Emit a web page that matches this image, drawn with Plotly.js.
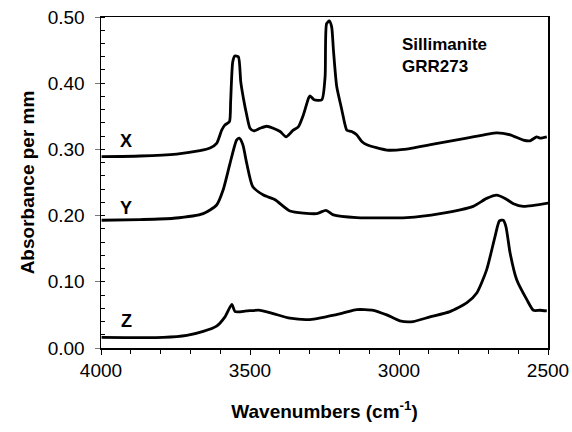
<!DOCTYPE html>
<html>
<head>
<meta charset="utf-8">
<script src="https://cdn.plot.ly/plotly-3.0.1.min.js"></script>
<style>html,body{margin:0;padding:0;background:#fff}#chart{width:572px;height:432px}</style>
</head>
<body>
<div id="chart"></div>
<script>
// Spectrum X (offset)
const xWn = [3998,3869,3746,3668,3634,3612,3595,3584,3569,3565,3558,3551,3539,3531,3522,3511,3500,3487,3466,3444,3422,3399,3379,3355,3338,3321,3304,3299,3285,3259,3248,3243,3234,3226,3220,3209,3192,3181,3175,3159,3142,3125,3108,3041,2985,2885,2773,2672,2627,2583,2560,2538,2527,2504];
const xAbs = [0.289,0.290,0.293,0.298,0.302,0.309,0.329,0.337,0.342,0.372,0.432,0.441,0.440,0.402,0.377,0.352,0.332,0.328,0.332,0.335,0.332,0.327,0.319,0.329,0.334,0.352,0.377,0.381,0.375,0.375,0.410,0.490,0.494,0.485,0.450,0.395,0.360,0.337,0.329,0.327,0.322,0.312,0.307,0.299,0.300,0.308,0.317,0.325,0.322,0.314,0.313,0.319,0.317,0.319];
// Spectrum Y (offset)
const yWn = [3998,3869,3757,3657,3612,3590,3567,3545,3536,3524,3511,3491,3455,3416,3366,3276,3245,3220,3142,2974,2862,2751,2706,2672,2644,2616,2583,2499];
const yAbs = [0.193,0.194,0.196,0.203,0.216,0.239,0.279,0.314,0.317,0.307,0.279,0.244,0.231,0.224,0.207,0.203,0.208,0.201,0.197,0.197,0.203,0.214,0.226,0.231,0.226,0.218,0.214,0.219];
// Spectrum Z
const zWn = [3998,3791,3712,3657,3612,3584,3561,3550,3511,3466,3422,3366,3299,3187,3142,3086,3041,2997,2952,2896,2829,2773,2739,2706,2678,2663,2650,2641,2627,2605,2571,2549,2527,2504];
const zAbs = [0.016,0.016,0.019,0.025,0.033,0.047,0.066,0.055,0.056,0.057,0.052,0.045,0.043,0.053,0.058,0.057,0.050,0.041,0.040,0.047,0.055,0.068,0.083,0.118,0.168,0.192,0.193,0.183,0.143,0.103,0.073,0.057,0.057,0.056];

const seriesNames = ["X","Y","Z"];
const labelY = [0.313,0.211,0.041];
const labelWn = 3915;
const sampleText = ["Sillimanite","GRR273"];

const lineStyle = {color:"#000", width:2.8, shape:"spline", smoothing:0.6};
const traces = [
  {x:xWn, y:xAbs, mode:"lines", line:lineStyle, name:"X"},
  {x:yWn, y:yAbs, mode:"lines", line:lineStyle, name:"Y"},
  {x:zWn, y:zAbs, mode:"lines", line:lineStyle, name:"Z"}
];

const fam = "Liberation Sans, Arial, sans-serif";
const annotations = seriesNames.map((n,i)=>({
  x:labelWn, y:labelY[i], xref:"x", yref:"y", text:"<b>"+n+"</b>", showarrow:false,
  font:{family:fam, size:18, color:"#000"}, xanchor:"center", yanchor:"middle"
}));
annotations.push({
  x:0.668, y:0.885, xref:"paper", yref:"paper", text:"<b>"+sampleText.join("<br>")+"</b>",
  showarrow:false, align:"left", xanchor:"left", yanchor:"middle",
  font:{family:fam, size:17, color:"#000"}
});

const layout = {
  width:572, height:432,
  margin:{l:101, r:24, t:17, b:84},
  paper_bgcolor:"#fff", plot_bgcolor:"#fff",
  showlegend:false,
  font:{family:fam, color:"#000"},
  xaxis:{
    range:[4000,2500], autorange:false,
    tickvals:[4000,3500,3000,2500], ticktext:["4000","3500","3000","2500"],
    ticks:"outside", ticklen:5, tickwidth:1, tickcolor:"#000",
    minor:{dtick:100, tick0:0, ticks:"outside", ticklen:4, tickcolor:"#000", tickwidth:1, showgrid:false},
    showgrid:false, zeroline:false,
    showline:true, linecolor:"#000", linewidth:1.5, mirror:true,
    tickfont:{family:fam, size:19, color:"#000"},
    title:{text:"<b>Wavenumbers (cm<sup>-1</sup>)</b>", font:{family:fam, size:19, color:"#000"}, standoff:24}
  },
  yaxis:{
    range:[0,0.5], autorange:false,
    dtick:0.1, tick0:0, tickformat:".2f",
    ticks:"outside", ticklen:5, tickwidth:1, tickcolor:"#777",
    ticklabelstandoff:6,
    minor:{dtick:0.02, tick0:0, ticks:"inside", ticklen:4, tickcolor:"#000", tickwidth:1, showgrid:false},
    showgrid:false, zeroline:false,
    showline:true, linecolor:"#000", linewidth:1.5, mirror:true,
    tickfont:{family:fam, size:19, color:"#000"},
    title:{text:"<b>Absorbance per mm</b>", font:{family:fam, size:19, color:"#000"}, standoff:8}
  },
  annotations:annotations
};

Plotly.newPlot("chart", traces, layout, {displayModeBar:false, staticPlot:true});
</script>
</body>
</html>
